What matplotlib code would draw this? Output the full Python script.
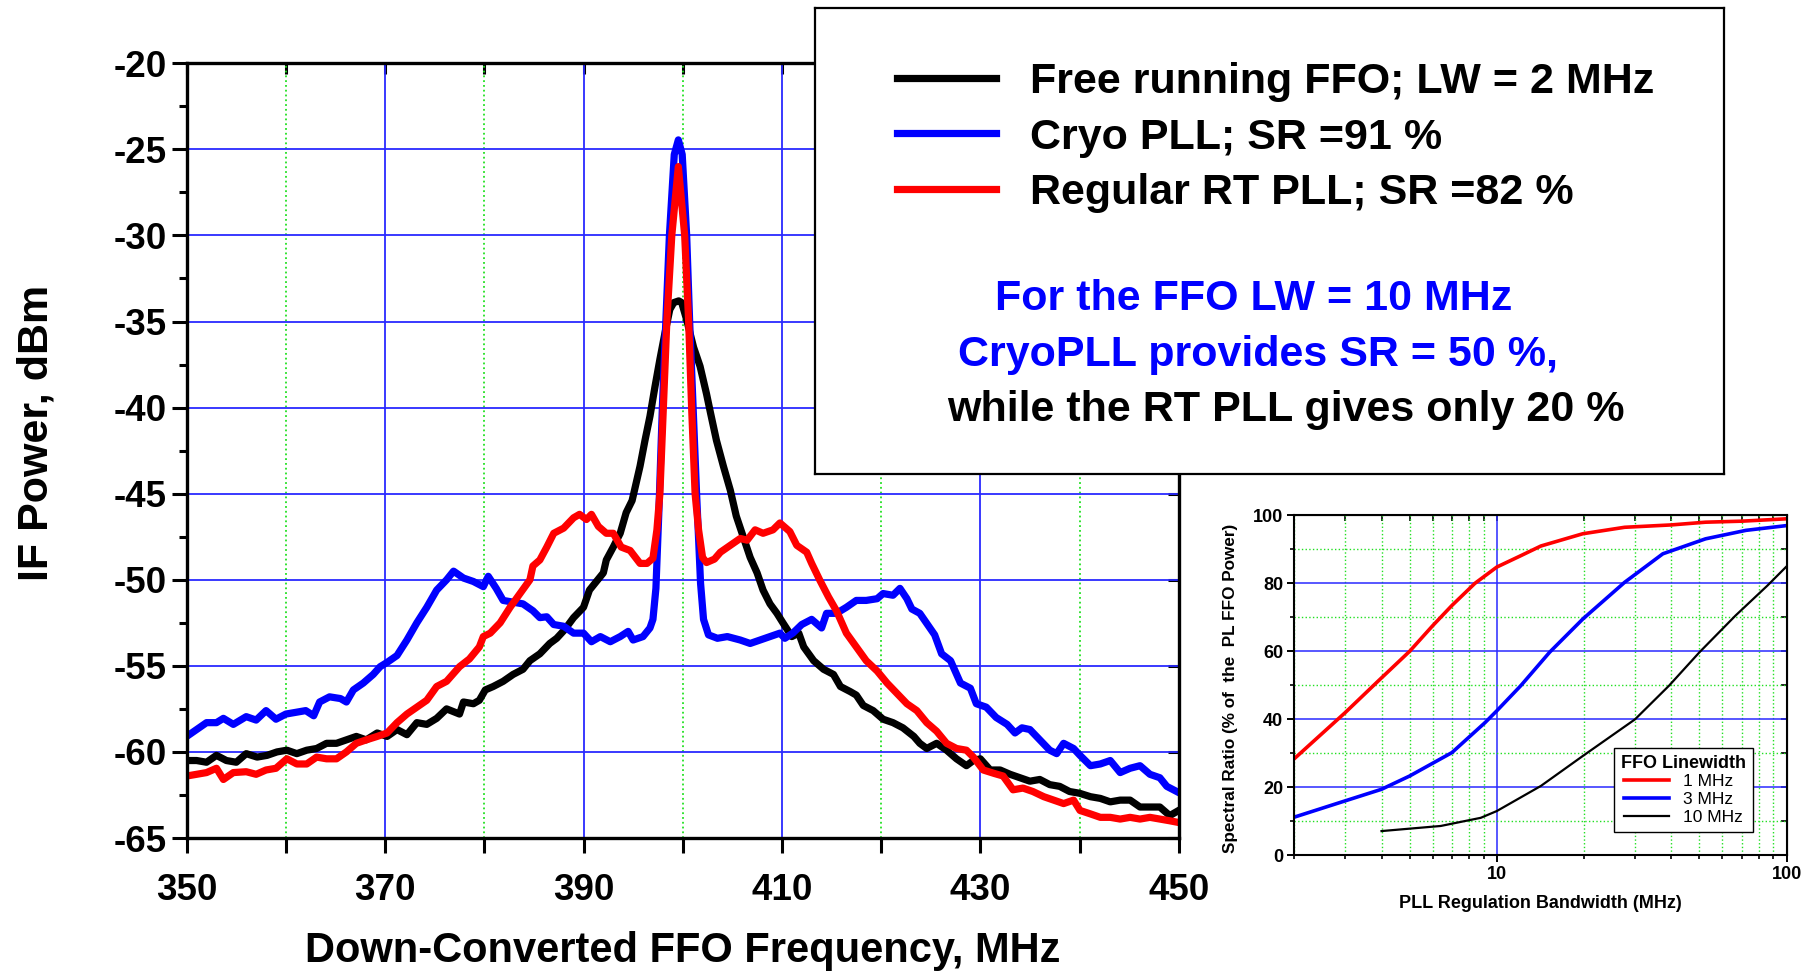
import numpy as np
import matplotlib
matplotlib.use("Agg")
import matplotlib.pyplot as plt
import matplotlib.ticker as mticker
from matplotlib import font_manager

plt.rcParams['font.family'] = ['Liberation Sans', 'DejaVu Sans']
plt.rcParams['font.weight'] = 'bold'
plt.rcParams['axes.unicode_minus'] = False

###############################################
# Main spectra

free_f = [350, 351, 352, 353, 354, 355, 356, 357.1, 358.1, 359.1, 360.1, 361.1, 362.1, 363.1,
          364.1, 365.1, 366.1, 367.1, 368.1, 369.2, 370.2, 371.2, 372.2, 373.2, 374.2, 375.2,
          376.2, 377.5, 377.9, 378.9, 379.5, 380.1, 380.9, 381.9, 382.9, 383.9, 384.6, 385.6,
          386.6, 387.3, 388.1, 389.0, 390.0, 390.6, 391.3, 392.0, 392.3, 393.0, 393.7, 394.3,
          394.9, 395.7, 396.2, 396.7, 397.2, 397.7, 398.2, 398.7, 399.1, 399.6, 399.9, 400.4,
          401.1, 401.75, 402.4, 402.8, 403.4, 404.1, 404.8, 405.4, 406.1, 406.8, 407.5, 408.1,
          408.8, 409.5, 410.1, 411.0, 411.7, 412.2, 413.2, 414.2, 415.2, 415.9, 416.9, 417.5,
          418.2, 419.2, 420.2, 421.2, 422.2, 423.3, 423.9, 424.6, 425.6, 426.6, 427.6, 428.6,
          429.3, 430.0, 431, 432, 433, 434, 435, 436, 437, 438, 439, 440, 441.1, 442.1, 443.1,
          444.1, 445.1, 446.1, 447.1, 448.1, 449.1, 450]
free_p = [-60.5, -60.5, -60.6, -60.2, -60.5, -60.6, -60.1, -60.3, -60.2, -60.0, -59.9, -60.1,
          -59.9, -59.8, -59.5, -59.5, -59.3, -59.1, -59.3, -58.9, -59.1, -58.7, -59.0, -58.3,
          -58.4, -58.05, -57.5, -57.8, -57.1, -57.2, -57.0, -56.4, -56.2, -55.9, -55.5, -55.2,
          -54.7, -54.3, -53.7, -53.4, -52.9, -52.2, -51.6, -50.6, -50.1, -49.6, -48.85, -48.1,
          -47.3, -46.1, -45.4, -43.4, -41.9, -40.5, -38.8, -37.2, -35.7, -34.3, -33.9, -33.8,
          -33.9, -34.9, -36.5, -37.6, -39.2, -40.3, -41.9, -43.4, -44.8, -46.3, -47.5, -48.7,
          -49.6, -50.6, -51.4, -51.95, -52.5, -53.3, -53.1, -53.9, -54.7, -55.2, -55.5, -56.2,
          -56.5, -56.7, -57.3, -57.6, -58.1, -58.3, -58.6, -59.1, -59.5, -59.8, -59.5, -59.9,
          -60.4, -60.8, -60.5, -60.4, -61.05, -61.05, -61.3, -61.5, -61.7, -61.6, -61.9, -62.0,
          -62.3, -62.4, -62.6, -62.7, -62.9, -62.8, -62.8, -63.2, -63.2, -63.2, -63.7, -63.4]

cryo_f = [350, 351, 352, 353, 353.7, 354.7, 356, 357, 358, 359, 360, 361, 362, 362.8, 363.4,
          364.4, 365.5, 366.1, 366.8, 367.8, 368.8, 369.5, 370.2, 371.2, 372.2, 373.2, 374.2,
          375.2, 376.2, 376.9, 377.9, 378.9, 379.9, 380.4, 381.2, 381.9, 382.9, 383.9, 384.9,
          385.6, 386.3, 387, 388, 389, 390, 390.8, 391.7, 392.7, 393.7, 394.5, 395, 396, 396.7,
          397.0, 397.3, 397.6, 397.95, 398.3, 398.66, 399.15, 399.56, 399.95, 400.4, 400.7,
          401.05, 401.4, 401.8, 402.1, 402.6, 403.5, 404.5, 405.8, 406.8, 407.8, 408.8, 409.8,
          410.3, 411.1, 412, 413, 414, 414.5, 415.5, 416.5, 417.5, 418.5, 419.6, 420.2, 421.2,
          421.9, 422.6, 423.1, 423.9, 424.8, 425.4, 426.1, 427, 428, 429, 429.6, 430.6, 431.6,
          432.7, 433.5, 434.2, 435, 436, 437, 437.7, 438.4, 439.4, 440.05, 441.1, 442.1, 443.1,
          444.1, 445.1, 446.1, 447.1, 448.1, 448.8, 449.8]
cryo_p = [-59.1, -58.7, -58.3, -58.3, -58.05, -58.4, -57.95, -58.15, -57.6, -58.1, -57.8,
          -57.7, -57.6, -57.9, -57.1, -56.8, -56.9, -57.1, -56.4, -56.0, -55.5, -55.05, -54.8,
          -54.4, -53.5, -52.5, -51.6, -50.6, -50.0, -49.5, -49.9, -50.1, -50.4, -49.8, -50.5,
          -51.2, -51.3, -51.4, -51.8, -52.2, -52.15, -52.6, -52.7, -53.1, -53.1, -53.6, -53.3,
          -53.6, -53.3, -53.0, -53.5, -53.3, -52.8, -52.3, -50.5, -46.0, -40.0, -35.0, -30.0,
          -25.3, -24.45, -25.3, -30.0, -35.0, -40.0, -45.0, -50.2, -52.3, -53.2, -53.4, -53.3,
          -53.5, -53.7, -53.5, -53.3, -53.1, -53.4, -53.1, -52.6, -52.3, -52.8, -51.95, -51.95,
          -51.6, -51.2, -51.2, -51.1, -50.8, -50.9, -50.5, -51.1, -51.7, -51.95, -52.7, -53.2,
          -54.3, -54.7, -56.0, -56.3, -57.2, -57.4, -58.0, -58.4, -58.9, -58.6, -58.7, -59.3,
          -59.9, -60.1, -59.5, -59.8, -60.2, -60.8, -60.7, -60.5, -61.2, -60.95, -60.8, -61.3,
          -61.5, -62.0, -62.3]

rt_f = [350, 351, 352, 353, 353.7, 354.7, 356, 357, 358, 359, 360.1, 361.1, 362.1, 363.1,
        364.1, 365.1, 366.1, 367.1, 368.1, 369.2, 370.2, 371.2, 372.2, 373.2, 374.2, 375.2,
        376.2, 377.5, 378.5, 379.5, 379.9, 380.6, 381.6, 382.6, 383.6, 384.6, 384.9, 385.6,
        386.3, 387, 388, 389, 389.6, 390.3, 390.8, 391.5, 392.3, 393, 393.8, 394.7, 395.7,
        396.4, 397.0, 397.4, 397.7, 398.05, 398.4, 398.9, 399.56, 400.2, 400.6, 400.9, 401.25,
        401.6, 402.0, 402.4, 403.2, 403.8, 404.8, 405.8, 406.5, 407.3, 408.1, 409.1, 409.8,
        410.8, 411.5, 412.5, 413, 413.8, 414.7, 415.5, 416.5, 417.5, 418.5, 419.6, 420.6,
        421.6, 422.6, 423.6, 424.6, 425.6, 426.6, 427.6, 428.6, 429.3, 430.3, 431.4, 432.3,
        433.3, 434.3, 435.3, 436.4, 437.4, 438.4, 439.4, 440.05, 441.1, 442.1, 443.1, 444.1,
        445.1, 446.1, 447.1, 448.1, 449.1, 450]
rt_p = [-61.4, -61.3, -61.2, -60.95, -61.6, -61.2, -61.15, -61.3, -61.05, -60.95, -60.4,
        -60.7, -60.7, -60.3, -60.4, -60.4, -60.0, -59.5, -59.3, -59.1, -58.9, -58.3, -57.8,
        -57.4, -57.0, -56.2, -55.9, -55.05, -54.6, -53.9, -53.3, -53.1, -52.5, -51.6, -50.8,
        -50.0, -49.2, -48.85, -48.1, -47.3, -47.0, -46.4, -46.2, -46.5, -46.2, -46.9, -47.3,
        -47.3, -48.1, -48.3, -49.05, -49.05, -48.75, -47.1, -45.0, -40.0, -35.0, -30.0, -26.0,
        -30.0, -35.0, -40.0, -45.0, -47.1, -48.7, -49.0, -48.8, -48.4, -48.0, -47.6, -47.7,
        -47.1, -47.3, -47.1, -46.7, -47.2, -48.0, -48.4, -49.05, -50.0, -51.0, -51.8, -53.1,
        -53.9, -54.7, -55.3, -56.0, -56.6, -57.2, -57.6, -58.3, -58.8, -59.5, -59.8, -59.9,
        -60.3, -61.05, -61.25, -61.4, -62.2, -62.1, -62.3, -62.6, -62.8, -63.0, -62.8, -63.4,
        -63.6, -63.8, -63.8, -63.9, -63.8, -63.9, -63.8, -63.9, -64.0, -64.1]

labels = ["Free running FFO; LW = 2 MHz", "Cryo PLL; SR =91 %", "Regular RT PLL; SR =82 %"]

###############################################
# Inset: spectral ratio vs PLL bandwidth

bw_1 = [2, 3, 3.9, 5, 6, 7, 8.4, 10, 12, 14.2, 19.8, 27.6, 40, 52.5, 70, 100]
sr_1 = [28.4, 42, 51.3, 60, 67.5, 73.5, 80, 84.8, 88, 91, 94.6, 96.5, 97.2, 98, 98.3, 99]
bw_3 = [2, 2.85, 4, 5, 7, 9.1, 10, 12.1, 15.2, 19.8, 27.6, 37.4, 52.5, 72.4, 100]
sr_3 = [11.2, 15.4, 19.4, 23.3, 30.2, 39, 42.5, 49.9, 59.7, 69.5, 80.3, 88.7, 93.1, 95.6, 97]
bw_10 = [4, 6.4, 8.8, 10, 14.2, 19.8, 30, 39.3, 50, 66.6, 86, 100]
sr_10 = [7.1, 8.6, 11, 13, 20.4, 29.2, 40, 49.9, 59.7, 70.5, 79.4, 85]
inset_labels = ["1 MHz", "3 MHz", "10 MHz"]

note_lines = ["For the FFO LW = 10 MHz", "CryoPLL provides SR = 50 %,",
              "while the RT PLL gives only 20 %"]

# narrow font for the text box, if available
names = {f.name for f in font_manager.fontManager.ttflist}
if 'Liberation Sans Narrow' in names:
    box_family, box_size = ['Liberation Sans Narrow', 'DejaVu Sans'], 38
    box_sp, box_hl, box_tp = -0.1, 1.875, 0.66
else:
    box_family, box_size = ['Liberation Sans', 'DejaVu Sans'], 31
    box_sp, box_hl, box_tp = 0.36, 2.3, 0.8

W, H = 1812, 974
fig = plt.figure(figsize=(W / 100, H / 100), dpi=100)

BLUE_GRID = '#2a2aff'
GREEN_GRID = '#22e022'

###############################################
# Main axes

ax = fig.add_axes([186.7 / W, 1 - 838 / H, 992 / W, 774.7 / H])
l_free, = ax.plot(free_f, free_p, color='black', lw=5.2, label=labels[0])
l_cryo, = ax.plot(cryo_f, cryo_p, color='#0000ff', lw=5.2, label=labels[1])
l_rt, = ax.plot(rt_f, rt_p, color='#ff0000', lw=5.2, label=labels[2])

ax.set_xlim(350, 450)
ax.set_ylim(-65, -20)
ax.xaxis.set_major_locator(mticker.MultipleLocator(20, offset=10))
ax.xaxis.set_minor_locator(mticker.MultipleLocator(10))
ax.yaxis.set_major_locator(mticker.MultipleLocator(5))
ax.yaxis.set_minor_locator(mticker.MultipleLocator(2.5))
ax.set_axisbelow(True)
ax.grid(which='major', color=BLUE_GRID, lw=1.3)
ax.grid(which='minor', axis='x', color=GREEN_GRID, ls=':', lw=1.3)

ax.tick_params(which='major', direction='out', length=11, width=2.2, labelsize=26.5)
ax.tick_params(axis='x', which='major', pad=14)
ax.tick_params(axis='x', which='minor', direction='out', length=11, width=2.2)
ax.tick_params(axis='y', which='minor', direction='out', length=6, width=2.2)
for s in ax.spines.values():
    s.set_linewidth(2.4)

top = ax.secondary_xaxis('top')
top.xaxis.set_major_locator(mticker.MultipleLocator(10))
top.tick_params(direction='in', length=8, width=2.2, labeltop=False)
right = ax.secondary_yaxis('right')
right.yaxis.set_major_locator(mticker.MultipleLocator(5))
right.tick_params(direction='in', length=8, width=2.2, labelright=False)

ax.set_xlabel("Down-Converted FFO Frequency, MHz", fontsize=30, fontweight='bold')
ax.set_ylabel("IF Power, dBm", fontsize=31, fontweight='bold')
ax.xaxis.label.set_va('center')
ax.yaxis.label.set_va('center')
ax.xaxis.set_label_coords(0.5, -0.146)
ax.yaxis.set_label_coords(-0.151, 0.523)

###############################################
# Text box with legend and note

box = fig.add_axes([814.7 / W, 1 - 473.8 / H, 909.5 / W, 465.7 / H])
box.set_xticks([]); box.set_yticks([])
for s in box.spines.values():
    s.set_linewidth(1.6)
box.legend(handles=[l_free, l_cryo, l_rt], loc='center left',
           bbox_to_anchor=(0.0905, 1 - (137.5 - 8.1) / 465.7), frameon=False,
           borderpad=0, borderaxespad=0, handlelength=box_hl, handletextpad=box_tp,
           labelspacing=box_sp, prop={'family': box_family, 'size': box_size, 'weight': 'bold'})

note_y = [299, 355, 410]
note_x = [1254, 1258, 1286]
note_c = ['#0000ff', '#0000ff', 'black']
for txt, xx, yy, cc in zip(note_lines, note_x, note_y, note_c):
    fig.text(xx / W, 1 - yy / H, txt, ha='center', va='center', color=cc,
             family=box_family, fontsize=box_size, fontweight='bold')

###############################################
# Inset

ax2 = fig.add_axes([1294.3 / W, 1 - 855.2 / H, 492.3 / W, 339.8 / H])
ax2.plot(bw_1, sr_1, color='#ff0000', lw=2.6, label=inset_labels[0])
ax2.plot(bw_3, sr_3, color='#0000ff', lw=2.6, label=inset_labels[1])
ax2.plot(bw_10, sr_10, color='black', lw=1.6, label=inset_labels[2])
ax2.set_xscale('log')
ax2.set_xlim(2, 100)
ax2.set_ylim(0, 100)
ax2.yaxis.set_major_locator(mticker.MultipleLocator(20))
ax2.yaxis.set_minor_locator(mticker.MultipleLocator(10))
ax2.xaxis.set_major_locator(mticker.LogLocator(base=10))
ax2.xaxis.set_minor_locator(mticker.LogLocator(base=10, subs=np.arange(2, 10)))
ax2.xaxis.set_major_formatter(mticker.FuncFormatter(lambda v, p: f'{v:g}'))
ax2.xaxis.set_minor_formatter(mticker.NullFormatter())
ax2.set_axisbelow(True)
ax2.grid(which='major', color=BLUE_GRID, lw=1.1)
ax2.grid(which='minor', color=GREEN_GRID, ls=':', lw=1.0)
ax2.tick_params(which='major', direction='out', length=5, width=1.4, labelsize=13, pad=3)
ax2.tick_params(which='minor', direction='out', length=3, width=1.2)
for s in ax2.spines.values():
    s.set_linewidth(1.5)
top2 = ax2.secondary_xaxis('top')
top2.tick_params(which='both', direction='in', length=4, width=1.2, labeltop=False)
top2.xaxis.set_minor_formatter(mticker.NullFormatter())
right2 = ax2.secondary_yaxis('right')
right2.yaxis.set_major_locator(mticker.MultipleLocator(20))
right2.yaxis.set_minor_locator(mticker.MultipleLocator(10))
right2.tick_params(which='both', direction='in', length=4, width=1.2, labelright=False)

ax2.set_xlabel("PLL Regulation Bandwidth (MHz)", fontsize=13, fontweight='bold')
ax2.set_ylabel("Spectral Ratio (% of  the  PL FFO Power)", fontsize=12.3, fontweight='bold')
ax2.xaxis.label.set_va('center')
ax2.yaxis.label.set_va('center')
ax2.xaxis.set_label_coords(0.5, -0.1436)
ax2.yaxis.set_label_coords(-0.1286, 0.49)

leg2 = ax2.legend(loc='lower right', bbox_to_anchor=(0.949, 0.043), title="FFO Linewidth",
                  fancybox=False, edgecolor='black', framealpha=1, handlelength=2.6,
                  prop={'size': 12.5, 'weight': 'normal'}, borderpad=0.4, labelspacing=0.15)
leg2.get_title().set_fontweight('bold')
leg2.get_title().set_fontsize(13)
leg2.get_frame().set_linewidth(1.0)

fig.savefig("out.png", dpi=100)
